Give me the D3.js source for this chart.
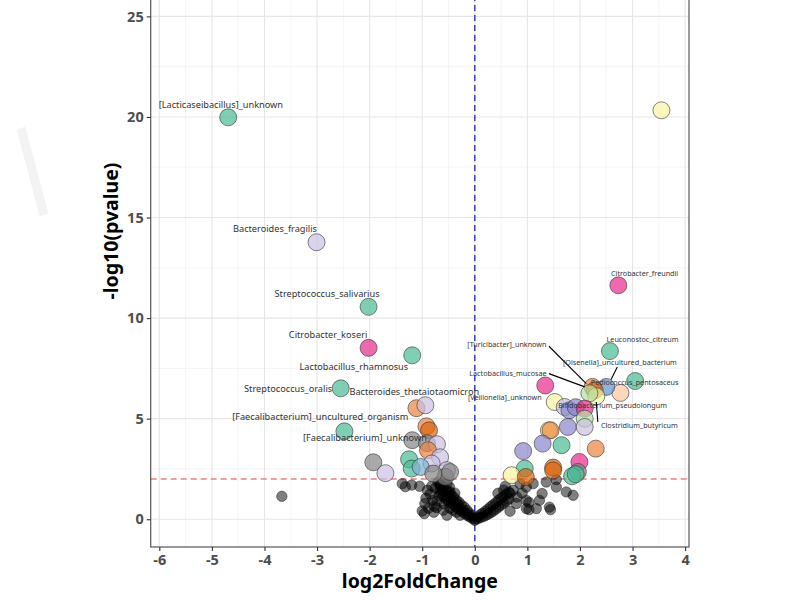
<!DOCTYPE html>
<html>
<head>
<meta charset="utf-8">
<script src="https://cdn.jsdelivr.net/npm/d3@7"></script>
<style>
  body { margin: 0; background: #fff; }
  svg { display: block; font-family: "Noto Sans", "Open Sans", sans-serif; }
</style>
</head>
<body>
<div id="chart"></div>
<script>
// Volcano plot: log2FoldChange vs -log10(pvalue)

// Significant taxa (filled by group colour)
const sigLfc = [
  -4.69, -3.01, -2.02, -2.02, -1.19, -2.55, -1.11, -0.94, -2.48, -0.92,
  -0.87, -1.19, -0.91, -0.72, -0.89, -1.93, -1.70, -1.25, -0.66, -0.82,
  -1.20, -1.03, -0.53, -0.56, -0.47, -0.79,
  3.55, 2.73, 2.57, 3.05, 2.77, 2.50, 2.24, 2.28, 2.31, 2.18,
  1.34, 1.52, 1.71, 1.80, 1.92, 2.09, 2.09, 1.41, 1.44, 1.77,
  2.09, 1.29, 1.65, 2.30, 0.92, 1.99, 0.95, 1.49, 1.96, 1.85,
  0.70, 0.97, 1.49, 1.92
];
const sigLogp = [
  19.98, 13.77, 10.56, 8.52, 8.15, 6.51, 5.52, 5.67, 4.37, 4.62,
  4.42, 3.93, 3.78, 3.73, 3.43, 2.83, 2.29, 2.98, 3.08, 2.77,
  2.52, 2.60, 2.44, 2.11, 2.35, 2.27,
  20.33, 11.63, 8.36, 6.87, 6.28, 6.58, 6.58, 6.41, 6.11, 6.26,
  6.65, 5.83, 5.58, 5.42, 5.57, 5.50, 5.00, 4.42, 4.42, 4.59,
  4.59, 3.76, 3.68, 3.51, 3.39, 2.85, 2.52, 2.57, 2.35, 2.14,
  2.19, 2.10, 2.43, 2.24
];
const sigGroup = [
  'teal', 'lavender', 'teal', 'pink', 'teal', 'teal', 'orange', 'lavender', 'teal', 'orange',
  'darkorange', 'gray', 'gray', 'lavender', 'orange', 'gray', 'lavender', 'teal', 'lavender', 'lavender',
  'teal', 'skyblue', 'lavender', 'gray', 'gray', 'gray',
  'yellow', 'pink', 'teal', 'teal', 'peach', 'blue', 'orange', 'darkorange', 'yellow', 'lightgreen',
  'pink', 'yellow', 'lavender', 'purple', 'purple', 'pink', 'lightgreen', 'yellow', 'orange', 'purple',
  'lavender', 'purple', 'teal', 'orange', 'purple', 'pink', 'teal', 'darkorange', 'gray', 'teal',
  'yellow', 'darkorange', 'darkorange', 'teal'
];

// Non-significant taxa (black, translucent)
const nsLfc = [
  -3.67, -1.38, -1.20, -1.05, -1.32, -1.00, -0.95, -0.90, -0.77, -0.66,
  -0.96, -0.73, -0.93, -0.85, -0.80, -0.75, -0.70, -0.68, -0.88, -0.82,
  -0.78, -0.72, -0.53, -0.47, -0.41, -0.34, -0.60, -0.53, -0.66, -0.53,
  -0.65, -0.65, -0.60, -0.60, -0.55, -0.55, -0.50, -0.50, -0.45, -0.45,
  -0.40, -0.40, -0.35, -0.35, -0.30, -0.30, -0.25, -0.25, -0.20, -0.20,
  -0.15, -0.15, -0.10, -0.10, -0.05, -0.05, -0.62, -0.52, -0.42, -0.32,
  -0.22, -0.12, -0.57, -0.48, -0.38, -0.58, -0.47, -0.35, -0.28,
  0.00, 0.00, 0.05, 0.05, 0.10, 0.10, 0.15, 0.15, 0.20, 0.20,
  0.25, 0.25, 0.30, 0.30, 0.35, 0.35, 0.40, 0.40, 0.45, 0.45,
  0.50, 0.50, 0.55, 0.55, 0.60, 0.60, 0.65, 0.65,
  0.67, 0.44, 0.67, 0.58, 0.73, 0.86, 0.98, 0.79, 0.98, 1.23,
  1.36, 1.55, 1.42, 1.74, 1.87, 1.17, 0.98, 1.03, 1.03, 1.44,
  1.11, 1.28, 1.55, 0.55, 0.90, 0.80
];
const nsLogp = [
  1.14, 1.77, 1.70, 1.64, 1.62, 0.41, 0.78, 1.44, 0.65, 1.41,
  0.28, 0.58, 1.05, 1.25, 0.95, 1.55, 1.85, 1.15, 0.55, 1.65,
  0.35, 0.90, 0.20, 1.36, 0.45, 0.78, 0.45, 0.94, 1.69, 1.77,
  1.70, 1.30, 1.60, 1.15, 1.45, 1.05, 1.35, 0.90, 1.20, 0.80,
  1.10, 0.70, 0.95, 0.60, 0.85, 0.50, 0.70, 0.40, 0.60, 0.30,
  0.45, 0.20, 0.30, 0.12, 0.18, 0.05, 1.45, 1.15, 0.95, 0.70,
  0.45, 0.22, 1.90, 1.60, 1.30, 0.75, 0.55, 0.35, 0.20,
  0.00, -0.05, 0.12, 0.02, 0.22, 0.08, 0.30, 0.12, 0.40, 0.18,
  0.50, 0.25, 0.62, 0.32, 0.72, 0.40, 0.82, 0.50, 0.95, 0.60,
  1.05, 0.70, 1.15, 0.80, 1.25, 0.90, 1.35, 1.00,
  0.40, 1.29, 1.29, 1.64, 1.44, 1.77, 1.60, 0.78, 0.94, 0.94,
  1.85, 1.60, 0.60, 1.36, 1.19, 0.53, 0.53, 0.48, 0.84, 0.48,
  1.77, 1.28, 1.97, 1.45, 1.30, 1.10
];

// Labels (text anchored at centre / baseline)
const leftLabelNames = [
  '[Lacticaseibacillus]_unknown', 'Bacteroides_fragilis', 'Streptococcus_salivarius',
  'Citrobacter_koseri', 'Lactobacillus_rhamnosus', 'Streptococcus_oralis',
  'Bacteroides_thetaiotaomicron', '[Faecalibacterium]_uncultured_organism', '[Faecalibacterium]_unknown'
];
const leftLabelLfc = [-4.83, -3.80, -2.81, -2.79, -2.30, -3.55, -1.15, -2.94, -2.09];
const leftLabelLogp = [20.43, 14.26, 11.03, 9.00, 7.41, 6.31, 6.16, 4.92, 3.88];

const rightLabelNames = [
  'Citrobacter_freundii', 'Leuconostoc_citreum', '[Olsenella]_uncultured_bacterium',
  'Pediococcus_pentosaceus', '[Turicibacter]_unknown', 'Lactobacillus_mucosae',
  '[Veillonella]_unknown', 'Bifidobacterium_pseudolongum', 'Clostridium_butyricum'
];
const rightLabelLfc = [3.23, 3.19, 2.76, 3.04, 0.61, 0.63, 0.57, 2.62, 3.13];
const rightLabelLogp = [12.08, 8.80, 7.65, 6.66, 8.55, 7.11, 5.91, 5.52, 4.52];

// Leader segments
const segFromLfc = [1.41, 1.41, 2.71, 2.31];
const segFromLogp = [8.60, 7.24, 7.57, 5.83];
const segToLfc = [2.12, 2.09, 2.59, 2.34];
const segToLogp = [6.74, 6.58, 6.94, 4.84];

const xTicks = [-6, -5, -4, -3, -2, -1, 0, 1, 2, 3, 4];
const yTicks = [0, 5, 10, 15, 20, 25];
const yGrid = [0, 5, 10, 15, 20, 25, 30];
const log2fcCut = 0;
const logpCut = 2;

const groupColors = {
  teal: '#48ba94', lavender: '#cbc1e3', pink: '#e7298a', orange: '#e9833e',
  darkorange: '#d9650f', yellow: '#f7f3a0', purple: '#8a86cc', blue: '#6094d3',
  peach: '#fdc59c', gray: '#858585', lightgreen: '#b5e0a0', skyblue: '#80b1d3'
};

const width = 800, height = 600;
const panel = { left: 150.7, right: 689, top: -85, bottom: 547 };

const svg = d3.select('#chart').append('svg')
  .attr('width', width)
  .attr('height', height);

// faint watermark stroke
svg.append('line')
  .attr('x1', 21).attr('y1', 128).attr('x2', 44).attr('y2', 215)
  .style('stroke', '#f3f3f3').style('stroke-width', 9);

const x = d3.scaleLinear().domain([-6.164, 4.074]).range([panel.left, panel.right]);
const y = d3.scaleLinear().domain([-1.38, 30.04]).range([panel.bottom, panel.top]);

// grid
const xMinor = d3.range(-5.5, 4, 1);
const yMinor = d3.range(2.5, 30, 5);
const grid = svg.append('g');
grid.selectAll('.xminor').data(xMinor).enter().append('line')
  .attr('x1', d => x(d)).attr('x2', d => x(d))
  .attr('y1', panel.top).attr('y2', panel.bottom)
  .style('stroke', '#f0f0f0').style('stroke-width', 0.7);
grid.selectAll('.yminor').data(yMinor).enter().append('line')
  .attr('x1', panel.left).attr('x2', panel.right)
  .attr('y1', d => y(d)).attr('y2', d => y(d))
  .style('stroke', '#f0f0f0').style('stroke-width', 0.7);
grid.selectAll('.xmajor').data(xTicks).enter().append('line')
  .attr('x1', d => x(d)).attr('x2', d => x(d))
  .attr('y1', panel.top).attr('y2', panel.bottom)
  .style('stroke', '#e6e6e6').style('stroke-width', 1.1);
grid.selectAll('.ymajor').data(yGrid).enter().append('line')
  .attr('x1', panel.left).attr('x2', panel.right)
  .attr('y1', d => y(d)).attr('y2', d => y(d))
  .style('stroke', '#e6e6e6').style('stroke-width', 1.1);

// thresholds
svg.append('line')
  .attr('x1', panel.left).attr('x2', panel.right)
  .attr('y1', y(logpCut)).attr('y2', y(logpCut))
  .style('stroke', '#f07f7f').style('stroke-width', 1.3)
  .style('stroke-dasharray', '6,4');
svg.append('line')
  .attr('x1', x(log2fcCut)).attr('x2', x(log2fcCut))
  .attr('y1', panel.top).attr('y2', panel.bottom)
  .style('stroke', '#3c3cc8').style('stroke-width', 1.5)
  .style('stroke-dasharray', '6,4');

// non-significant points
const nsData = nsLfc.map((d, i) => ({ lfc: d, logp: nsLogp[i] }));
svg.selectAll('.ns-dot').data(nsData).enter().append('circle')
  .attr('class', 'ns-dot')
  .attr('cx', d => x(d.lfc))
  .attr('cy', d => y(d.logp))
  .attr('r', 5.2)
  .style('fill', '#000').style('fill-opacity', 0.5)
  .style('stroke', '#000').style('stroke-opacity', 0.6).style('stroke-width', 0.7);

// significant points
const sigData = sigLfc.map((d, i) => ({ lfc: d, logp: sigLogp[i], group: sigGroup[i] }));
svg.selectAll('.sig-dot').data(sigData).enter().append('circle')
  .attr('class', 'sig-dot')
  .attr('cx', d => x(d.lfc))
  .attr('cy', d => y(d.logp))
  .attr('r', 8.5)
  .style('fill', d => groupColors[d.group]).style('fill-opacity', 0.7)
  .style('stroke', '#333').style('stroke-opacity', 0.85).style('stroke-width', 0.7);

// leader segments
const segData = segFromLfc.map((d, i) => ({ x1: d, y1: segFromLogp[i], x2: segToLfc[i], y2: segToLogp[i] }));
svg.selectAll('.seg').data(segData).enter().append('line')
  .attr('x1', d => x(d.x1)).attr('y1', d => y(d.y1))
  .attr('x2', d => x(d.x2)).attr('y2', d => y(d.y2))
  .style('stroke', '#000').style('stroke-width', 1.1);

// labels
const leftLabels = leftLabelNames.map((d, i) => ({ name: d, lfc: leftLabelLfc[i], logp: leftLabelLogp[i] }));
svg.selectAll('.lab-left').data(leftLabels).enter().append('text')
  .attr('x', d => x(d.lfc)).attr('y', d => y(d.logp))
  .style('text-anchor', 'middle')
  .style('font-size', '9.2px').style('fill', '#333')
  .text(d => d.name);
const rightLabels = rightLabelNames.map((d, i) => ({ name: d, lfc: rightLabelLfc[i], logp: rightLabelLogp[i] }));
svg.selectAll('.lab-right').data(rightLabels).enter().append('text')
  .attr('x', d => x(d.lfc)).attr('y', d => y(d.logp))
  .style('text-anchor', 'middle')
  .style('font-size', '7.2px').style('fill', '#333')
  .text(d => d.name);

// panel border
svg.append('rect')
  .attr('x', panel.left).attr('y', panel.top)
  .attr('width', panel.right - panel.left).attr('height', panel.bottom - panel.top)
  .style('fill', 'none').style('stroke', '#555').style('stroke-width', 1.2);

// axes
const fmt = d => (d < 0 ? '-' + Math.abs(d) : '' + d);
const xAxis = svg.append('g')
  .attr('transform', `translate(0,${panel.bottom})`)
  .call(d3.axisBottom(x).tickValues(xTicks).tickFormat(fmt).tickSize(4).tickSizeOuter(0));
const yAxis = svg.append('g')
  .attr('transform', `translate(${panel.left},0)`)
  .call(d3.axisLeft(y).tickValues(yTicks).tickFormat(fmt).tickSize(4).tickSizeOuter(0));
[xAxis, yAxis].forEach(a => {
  a.select('.domain').remove();
  a.selectAll('line').style('stroke', '#333').style('stroke-width', 1.1);
  a.selectAll('text')
    .style('font-family', '"Noto Sans", sans-serif')
    .style('font-size', '14.5px').style('font-weight', 'bold').style('fill', '#4d4d4d');
});
xAxis.selectAll('text').attr('dy', '0.78em');

// axis titles
svg.append('text')
  .attr('x', (panel.left + panel.right) / 2).attr('y', 588)
  .style('text-anchor', 'middle')
  .style('font-size', '19.5px').style('font-weight', 'bold').style('fill', '#000')
  .text('log2FoldChange');
svg.append('text')
  .attr('transform', `translate(118,${(panel.top + panel.bottom) / 2}) rotate(-90)`)
  .style('text-anchor', 'middle')
  .style('font-size', '19.5px').style('font-weight', 'bold').style('fill', '#000')
  .text('-log10(pvalue)');
</script>
</body>
</html>
